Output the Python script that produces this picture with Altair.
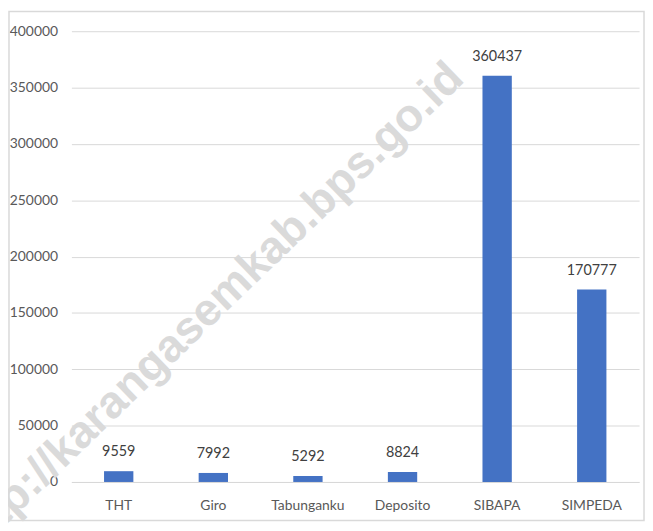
import altair as alt
import pandas as pd

categories = ["THT", "Giro", "Tabunganku", "Deposito", "SIBAPA", "SIMPEDA"]
values = [9559, 7992, 5292, 8824, 360437, 170777]
y_ticks = [0, 50000, 100000, 150000, 200000, 250000, 300000, 350000, 400000]
watermark = "http://karangasemkab.bps.go.id"

FONT = "Lato, Open Sans, sans-serif"
W, H = 573, 455

df = pd.DataFrame({"kategori": categories, "nilai": values})

x = alt.X("kategori:N", sort=categories, title=None,
          scale=alt.Scale(paddingInner=0.69, paddingOuter=0.345),
          axis=alt.Axis(labelAngle=0, labelFont=FONT, labelFontSize=14, labelColor="#595959",
                        labelPadding=17, ticks=False, domainColor="#d9d9d9", grid=False))
y = alt.Y("nilai:Q", title=None,
          scale=alt.Scale(domain=[0, 400000], nice=False),
          axis=alt.Axis(values=y_ticks, format="d", labelFont=FONT, labelFontSize=14,
                        labelColor="#595959", labelPadding=14, ticks=False, domain=False,
                        gridColor="#d9d9d9", gridWidth=1))

base = alt.Chart(df)

wm = alt.Chart(pd.DataFrame({"t": [watermark]})).mark_text(
    font="Liberation Sans, Arial, sans-serif", fontWeight="bold", fontSize=46,
    color="#dadada", angle=316, align="right", baseline="alphabetic"
).encode(text="t:N", x=alt.value(398), y=alt.value(50))

bars = base.mark_bar(color="#4472C4").encode(x=x, y=y)
labels = base.mark_text(font=FONT, fontSize=14.5, color="#404040", baseline="bottom", dy=-12).encode(
    x=alt.X("kategori:N", sort=categories), y="nilai:Q", text="nilai:Q")

border = alt.Chart(pd.DataFrame({"a": [0]})).mark_rect(
    filled=False, stroke="#d9d9d9", strokeWidth=1.5
).encode(x=alt.value(-63), x2=alt.value(578), y=alt.value(-20), y2=alt.value(494))

chart = alt.layer(wm, bars, labels, border).properties(
    width=W, height=H,
    padding={"left": 64, "top": 21, "right": 6, "bottom": 40},
    autosize=alt.AutoSizeParams(type="none"),
).configure_view(stroke=None)

chart.save("out.html", embed_options={"renderer": "svg", "actions": False})
